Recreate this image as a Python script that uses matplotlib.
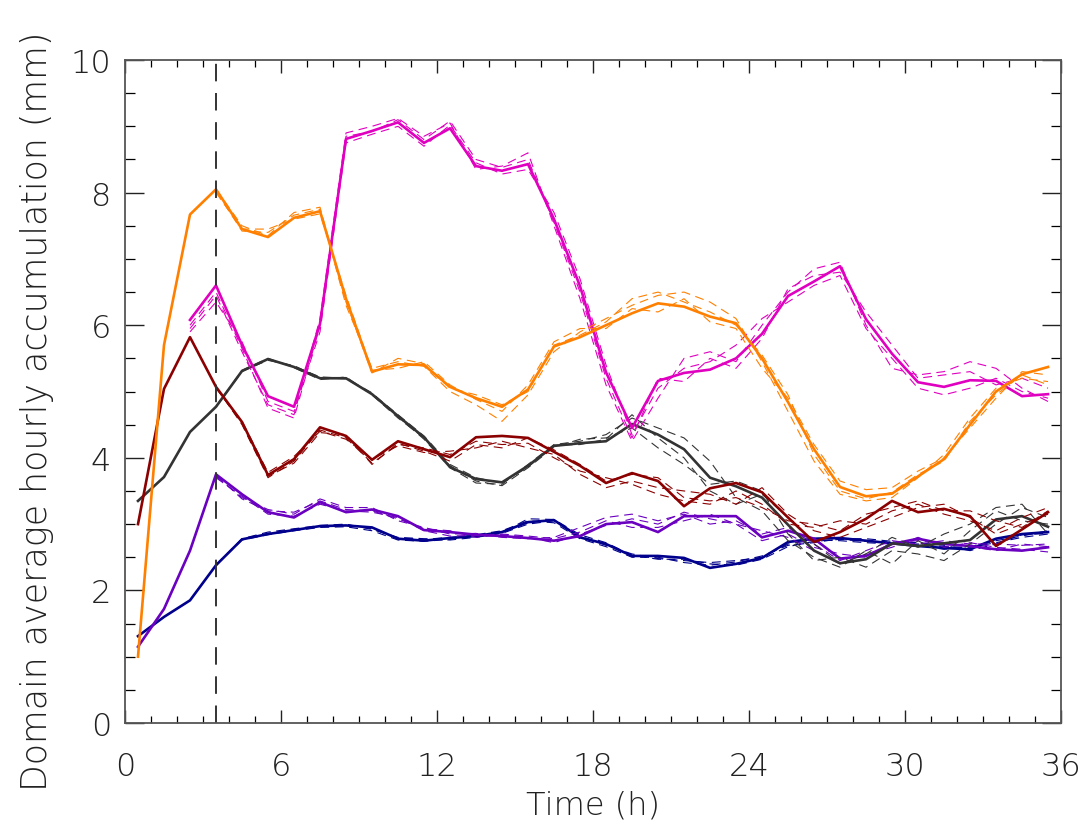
import numpy as np
import matplotlib.pyplot as plt
from matplotlib.ticker import MultipleLocator

nan = np.nan

# hours (half-hour centres of each hourly accumulation)
hours = [0.5, 1.5, 2.5, 3.5, 4.5, 5.5, 6.5, 7.5, 8.5, 9.5, 10.5, 11.5,
         12.5, 13.5, 14.5, 15.5, 16.5, 17.5, 18.5, 19.5, 20.5, 21.5, 22.5, 23.5,
         24.5, 25.5, 26.5, 27.5, 28.5, 29.5, 30.5, 31.5, 32.5, 33.5, 34.5, 35.5]

# control runs (solid)
orange_ctl = [1.0, 5.7, 7.67, 8.05, 7.45, 7.33, 7.62, 7.72, 6.4, 5.3, 5.41, 5.4,
              5.07, 4.9, 4.77, 5.03, 5.68, 5.82, 6.0, 6.18, 6.33, 6.28, 6.13, 6.03,
              5.5, 4.84, 4.13, 3.56, 3.42, 3.46, 3.72, 3.98, 4.5, 5.0, 5.26, 5.37]
magenta_ctl = [nan, nan, 6.08, 6.6, 5.7, 4.93, 4.77, 6.02, 8.81, 8.93, 9.06, 8.75,
               8.97, 8.4, 8.33, 8.43, 7.6, 6.59, 5.29, 4.45, 5.16, 5.28, 5.33, 5.5,
               5.87, 6.44, 6.66, 6.89, 6.09, 5.57, 5.14, 5.07, 5.17, 5.16, 4.93, 4.96]
darkred_ctl = [3.0, 5.04, 5.82, 5.07, 4.54, 3.74, 3.98, 4.46, 4.33, 3.97, 4.25, 4.13,
               4.01, 4.31, 4.33, 4.3, 4.09, 3.88, 3.62, 3.77, 3.65, 3.27, 3.54, 3.62,
               3.48, 3.1, 2.73, 2.88, 3.08, 3.35, 3.18, 3.23, 3.12, 2.67, 2.92, 3.18]
black_ctl = [3.35, 3.71, 4.39, 4.77, 5.31, 5.49, 5.37, 5.2, 5.2, 4.96, 4.63, 4.31,
             3.86, 3.68, 3.63, 3.88, 4.18, 4.22, 4.25, 4.51, 4.35, 4.13, 3.7, 3.57,
             3.4, 2.99, 2.6, 2.41, 2.47, 2.71, 2.67, 2.71, 2.76, 3.07, 3.12, 2.96]
purple_ctl = [1.15, 1.72, 2.6, 3.75, 3.45, 3.18, 3.1, 3.33, 3.18, 3.22, 3.12, 2.91,
              2.88, 2.84, 2.82, 2.79, 2.75, 2.82, 3.0, 3.03, 2.88, 3.12, 3.12, 3.12,
              2.8, 2.9, 2.78, 2.48, 2.52, 2.7, 2.78, 2.7, 2.67, 2.62, 2.6, 2.65]
navy_ctl = [1.31, 1.6, 1.85, 2.38, 2.77, 2.85, 2.91, 2.97, 2.98, 2.95, 2.78, 2.75,
            2.79, 2.82, 2.88, 3.03, 3.06, 2.8, 2.7, 2.52, 2.52, 2.49, 2.34, 2.4,
            2.49, 2.73, 2.78, 2.79, 2.75, 2.71, 2.67, 2.64, 2.62, 2.78, 2.85, 2.88]

# ensemble members (dashed)
orange_ens = [
    [nan, nan, nan, 8.02, 7.42, 7.4, 7.66, 7.75, 6.3, 5.35, 5.45, 5.38, 5.0, 4.8, 4.55, 4.95, 5.6, 5.9,
     6.1, 6.3, 6.45, 6.5, 6.35, 6.1, 5.45, 4.7, 3.95, 3.45, 3.35, 3.4, 3.7, 4.05, 4.6, 5.05, 5.2, 5.15],
    [nan, nan, nan, 8.0, 7.45, 7.45, 7.6, 7.68, 6.45, 5.32, 5.35, 5.45, 5.1, 4.88, 4.7, 5.1, 5.75, 5.95,
     5.95, 6.25, 6.2, 6.4, 6.05, 5.95, 5.35, 4.9, 4.2, 3.65, 3.52, 3.55, 3.8, 4.0, 4.45, 4.9, 5.3, 5.25],
    [nan, nan, nan, 8.05, 7.5, 7.35, 7.7, 7.78, 6.35, 5.28, 5.5, 5.42, 5.05, 4.95, 4.8, 5.0, 5.7, 5.85,
     6.05, 6.4, 6.5, 6.35, 6.2, 6.0, 5.55, 4.95, 4.05, 3.5, 3.38, 3.48, 3.75, 3.95, 4.55, 4.95, 5.25, 5.1],
]
magenta_ens = [
    [nan, nan, 5.95, 6.45, 5.6, 4.8, 4.65, 6.1, 8.9, 9.0, 9.12, 8.85, 9.05, 8.35, 8.4, 8.6, 7.5, 6.4,
     5.1, 4.25, 4.9, 5.5, 5.6, 5.45, 6.0, 6.5, 6.85, 6.95, 6.0, 5.35, 5.25, 5.3, 5.45, 5.35, 5.05, 4.85],
    [nan, nan, 5.9, 6.35, 5.75, 4.85, 4.7, 5.9, 8.75, 8.88, 9.0, 8.7, 9.02, 8.45, 8.28, 8.35, 7.7, 6.7,
     5.4, 4.35, 5.05, 5.35, 5.45, 5.7, 6.1, 6.35, 6.6, 6.75, 5.95, 5.5, 5.05, 4.95, 5.05, 5.2, 5.0, 4.9],
    [nan, nan, 6.0, 6.5, 5.65, 4.75, 4.6, 6.0, 8.85, 8.92, 9.1, 8.8, 9.08, 8.5, 8.38, 8.5, 7.55, 6.5,
     5.2, 4.3, 5.2, 5.15, 5.5, 5.35, 5.8, 6.55, 6.75, 6.8, 6.2, 5.7, 5.2, 5.25, 5.3, 5.1, 5.2, 5.05],
]
darkred_ens = [
    [nan, nan, nan, 5.07, 4.5, 3.7, 3.95, 4.42, 4.3, 3.92, 4.2, 4.15, 4.05, 4.25, 4.2, 4.22, 4.0, 3.8,
     3.7, 3.6, 3.45, 3.35, 3.3, 3.5, 3.3, 3.0, 2.95, 3.05, 3.0, 3.2, 3.3, 3.15, 3.05, 2.9, 3.1, 3.25],
    [nan, nan, nan, 5.05, 4.55, 3.78, 4.02, 4.4, 4.28, 3.98, 4.18, 4.08, 4.1, 4.15, 4.25, 4.15, 4.05, 3.75,
     3.55, 3.65, 3.55, 3.5, 3.45, 3.3, 3.55, 3.15, 2.9, 2.8, 2.95, 3.1, 3.25, 3.3, 3.1, 2.85, 3.0, 3.15],
    [nan, nan, nan, 5.06, 4.52, 3.72, 3.92, 4.38, 4.35, 3.9, 4.22, 4.1, 3.95, 4.2, 4.15, 4.3, 4.12, 3.9,
     3.65, 3.75, 3.7, 3.4, 3.35, 3.4, 3.25, 3.05, 3.0, 2.9, 3.15, 3.25, 3.35, 3.2, 3.2, 3.05, 2.95, 3.2],
]
black_ens = [
    [nan, nan, nan, 4.77, 5.3, 5.48, 5.38, 5.22, 5.2, 4.98, 4.62, 4.28, 3.85, 3.62, 3.6, 3.9, 4.2, 4.25,
     4.35, 4.6, 4.45, 4.3, 3.95, 3.4, 3.2, 2.75, 2.5, 2.35, 2.6, 2.4, 2.75, 2.55, 2.9, 3.2, 3.05, 3.0],
    [nan, nan, nan, 4.77, 5.32, 5.5, 5.36, 5.18, 5.22, 4.95, 4.6, 4.3, 3.88, 3.65, 3.58, 3.85, 4.16, 4.28,
     4.3, 4.45, 4.15, 3.9, 3.6, 3.65, 3.5, 2.85, 2.45, 2.5, 2.35, 2.6, 2.55, 2.45, 2.7, 3.0, 3.25, 3.1],
    [nan, nan, nan, 4.77, 5.31, 5.47, 5.39, 5.21, 5.19, 4.97, 4.65, 4.33, 3.9, 3.7, 3.62, 3.86, 4.19, 4.2,
     4.28, 4.65, 4.3, 4.0, 3.5, 3.3, 3.45, 3.1, 2.7, 2.4, 2.55, 2.8, 2.65, 2.85, 3.0, 3.25, 3.3, 2.85],
]
purple_ens = [
    [nan, nan, nan, 3.72, 3.4, 3.22, 3.15, 3.38, 3.25, 3.25, 3.05, 2.95, 2.85, 2.86, 2.8, 2.78, 2.8, 2.95,
     3.1, 3.15, 3.05, 3.15, 3.0, 3.05, 2.85, 2.95, 2.7, 2.45, 2.6, 2.75, 2.7, 2.75, 2.7, 2.7, 2.68, 2.7],
    [nan, nan, nan, 3.7, 3.42, 3.15, 3.12, 3.3, 3.2, 3.18, 3.1, 2.9, 2.82, 2.83, 2.85, 2.82, 2.78, 2.88,
     3.05, 2.95, 2.95, 3.05, 3.15, 3.0, 2.9, 2.8, 2.6, 2.4, 2.55, 2.65, 2.8, 2.65, 2.72, 2.65, 2.62, 2.58],
    [nan, nan, nan, 3.74, 3.38, 3.2, 3.18, 3.35, 3.22, 3.2, 3.08, 2.93, 2.9, 2.8, 2.84, 2.8, 2.72, 2.85,
     2.98, 3.08, 3.0, 3.18, 3.08, 3.0, 2.75, 2.85, 2.65, 2.55, 2.5, 2.72, 2.75, 2.72, 2.66, 2.6, 2.7, 2.66],
]
navy_ens = [
    [nan, nan, nan, 2.38, 2.78, 2.88, 2.93, 2.98, 3.0, 2.92, 2.8, 2.78, 2.76, 2.8, 2.86, 3.0, 3.05, 2.82,
     2.68, 2.55, 2.48, 2.45, 2.42, 2.45, 2.5, 2.7, 2.76, 2.75, 2.72, 2.7, 2.7, 2.66, 2.65, 2.72, 2.8, 2.85],
    [nan, nan, nan, 2.38, 2.76, 2.84, 2.9, 2.95, 2.96, 2.9, 2.76, 2.74, 2.77, 2.84, 2.9, 3.05, 3.02, 2.78,
     2.66, 2.5, 2.5, 2.42, 2.38, 2.43, 2.52, 2.68, 2.72, 2.78, 2.78, 2.74, 2.68, 2.62, 2.66, 2.75, 2.82, 2.9],
    [nan, nan, nan, 2.38, 2.77, 2.86, 2.92, 2.96, 2.99, 2.93, 2.79, 2.77, 2.8, 2.83, 2.87, 3.08, 3.07, 2.84,
     2.72, 2.53, 2.47, 2.47, 2.4, 2.38, 2.47, 2.66, 2.74, 2.77, 2.74, 2.73, 2.72, 2.68, 2.6, 2.7, 2.84, 2.86],
]

spinup_hour = 3.5

groups = [
    (navy_ctl, navy_ens, "#00008c"),
    (purple_ctl, purple_ens, "#6a00c0"),
    (black_ctl, black_ens, "#333333"),
    (darkred_ctl, darkred_ens, "#8b0000"),
    (magenta_ctl, magenta_ens, "#e000c0"),
    (orange_ctl, orange_ens, "#ff8000"),
]

plt.rcParams['font.family'] = ['DejaVu Sans']
plt.rcParams['font.weight'] = 'ultralight'
plt.rcParams['axes.labelweight'] = 'ultralight'

fig = plt.figure(figsize=(10.86, 8.28), dpi=100)
ax = fig.add_axes([0.1151, 0.1256, 0.8619, 0.8007])

for ctl, ens, col in groups:
    for member in ens:
        ax.plot(hours, member, color=col, lw=0.8, dashes=(8, 5))
    ax.plot(hours, ctl, color=col, lw=1.9)

ax.axvline(spinup_hour, color="#333333", lw=1.4, dashes=(9, 6))

ax.set_xlim(0, 36)
ax.set_ylim(0, 10)
ax.xaxis.set_major_locator(MultipleLocator(6))
ax.xaxis.set_minor_locator(MultipleLocator(1))
ax.yaxis.set_major_locator(MultipleLocator(2))
ax.yaxis.set_minor_locator(MultipleLocator(0.5))

ax.tick_params(axis='x', which='major', direction='in', length=9.5, width=1.0,
               top=True, bottom=True, pad=20, labelsize=23, colors="#222222")
ax.tick_params(axis='x', which='minor', direction='in', length=5, width=0.9,
               top=True, bottom=True)
ax.tick_params(axis='y', which='major', direction='in', length=13.5, width=1.0,
               left=True, right=True, pad=10, labelsize=23, colors="#222222")
ax.tick_params(axis='y', which='minor', direction='in', length=7, width=0.9,
               left=True, right=True)
for s in ax.spines.values():
    s.set_color("#555555")
    s.set_linewidth(1.3)

ax.set_xlabel("Time (h)", fontsize=23, color="#222222", labelpad=6)
ax.set_ylabel("Domain average hourly accumulation (mm)", fontsize=25,
              color="#222222")
ax.yaxis.set_label_coords(-0.076, 0.472)

fig.savefig("out.png", dpi=100)
